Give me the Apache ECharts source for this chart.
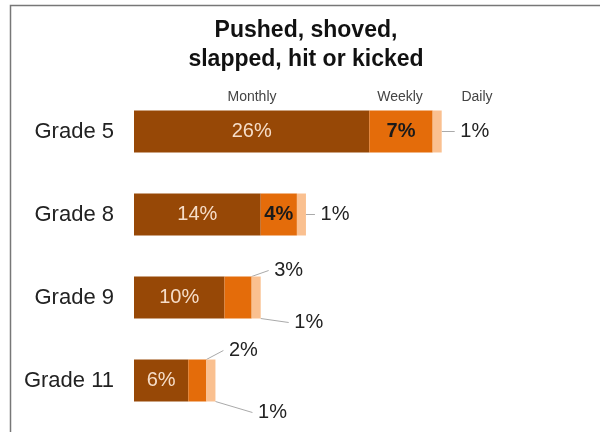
<!DOCTYPE html>
<html>
<head>
<meta charset="utf-8">
<script src="https://cdn.jsdelivr.net/npm/echarts@6/dist/echarts.min.js"></script>
<style>
html,body{margin:0;padding:0;background:#fff;}
#main{width:600px;height:432px;}
</style>
</head>
<body>
<div id="main"></div>
<script>
var categories = ['Grade 5', 'Grade 8', 'Grade 9', 'Grade 11'];
var monthly = [26, 14, 10, 6];
var weekly = [7, 4, 3, 2];
var daily = [1, 1, 1, 1];
var seriesNames = ['Monthly', 'Weekly', 'Daily'];
var titleLines = ['Pushed, shoved,', 'slapped, hit or kicked'];

var FONT = "'Liberation Sans', Arial, sans-serif";
var colors = ['#974806', '#E46C0A', '#FAC090'];

// label placement styles (offsets only)
var weeklyInside = [true, true, false, false];
var weeklyOffset = [[12, -27], [12, -27], [12, -27], [12, -30]];
var dailyOffset = [[8, 0], [4, 0], [23, 25], [32, 32]];

function pct(p) { return p.value + '%'; }
function pctOut(p) { return '\u00a0' + p.value + '%'; }

var chart = echarts.init(document.getElementById('main'), null, {renderer: 'canvas'});

var option = {
  animation: false,
  backgroundColor: '#fff',
  textStyle: {fontFamily: FONT},
  grid: {left: 134, right: 104, top: 90, bottom: 10, containLabel: false},
  xAxis: {
    type: 'value', min: 0, max: 40, show: false
  },
  yAxis: {
    type: 'category', data: categories, inverse: true,
    axisLine: {show: false}, axisTick: {show: false}, splitLine: {show: false},
    axisLabel: {fontSize: 22, color: '#222', margin: 20, fontFamily: FONT}
  },
  series: [
    {
      name: seriesNames[0], type: 'bar', stack: 'a', barWidth: 42,
      itemStyle: {color: colors[0]},
      label: {show: true, position: 'inside', formatter: pct, fontSize: 20, color: '#F6DDC8', fontFamily: FONT},
      data: monthly
    },
    {
      name: seriesNames[1], type: 'bar', stack: 'a', barWidth: 42,
      itemStyle: {color: colors[1]},
      data: weekly.map(function (v, i) {
        return {
          value: v,
          label: weeklyInside[i]
            ? {show: true, position: 'inside', formatter: pct, fontSize: 20, fontWeight: 'bold', color: '#1a1a1a', fontFamily: FONT}
            : {show: true, position: 'right', distance: 5, formatter: pctOut, fontSize: 20, color: '#222', fontFamily: FONT},
          labelLine: {show: !weeklyInside[i], lineStyle: {color: '#aaa', width: 1}}
        };
      }),
      labelLayout: function (p) {
        if (weeklyInside[p.dataIndex]) { return {}; }
        return {dx: weeklyOffset[p.dataIndex][0], dy: weeklyOffset[p.dataIndex][1]};
      }
    },
    {
      name: seriesNames[2], type: 'bar', stack: 'a', barWidth: 42,
      itemStyle: {color: colors[2]},
      label: {show: true, position: 'right', distance: 5, formatter: pctOut, fontSize: 20, color: '#222', fontFamily: FONT},
      labelLine: {show: true, lineStyle: {color: '#aaa', width: 1}},
      labelLayout: function (p) {
        return {dx: dailyOffset[p.dataIndex][0], dy: dailyOffset[p.dataIndex][1]};
      },
      data: daily
    }
  ],
  graphic: [
    {type: 'polyline', silent: true, shape: {points: [[10.5, 432], [10.5, 5.5], [600, 5.5]]}, style: {stroke: '#777', lineWidth: 1.5, fill: null}},
    {type: 'text', x: 306, y: 31, style: {text: titleLines[0], font: 'bold 23px ' + FONT, fill: '#111', align: 'center', verticalAlign: 'middle'}},
    {type: 'text', x: 306, y: 60, style: {text: titleLines[1], font: 'bold 23px ' + FONT, fill: '#111', align: 'center', verticalAlign: 'middle'}},
    {type: 'text', x: 252, y: 97, style: {text: seriesNames[0], font: '14px ' + FONT, fill: '#444', align: 'center', verticalAlign: 'middle'}},
    {type: 'text', x: 400, y: 97, style: {text: seriesNames[1], font: '14px ' + FONT, fill: '#444', align: 'center', verticalAlign: 'middle'}},
    {type: 'text', x: 477, y: 97, style: {text: seriesNames[2], font: '14px ' + FONT, fill: '#444', align: 'center', verticalAlign: 'middle'}}
  ]
};
chart.setOption(option);
</script>
</body>
</html>
